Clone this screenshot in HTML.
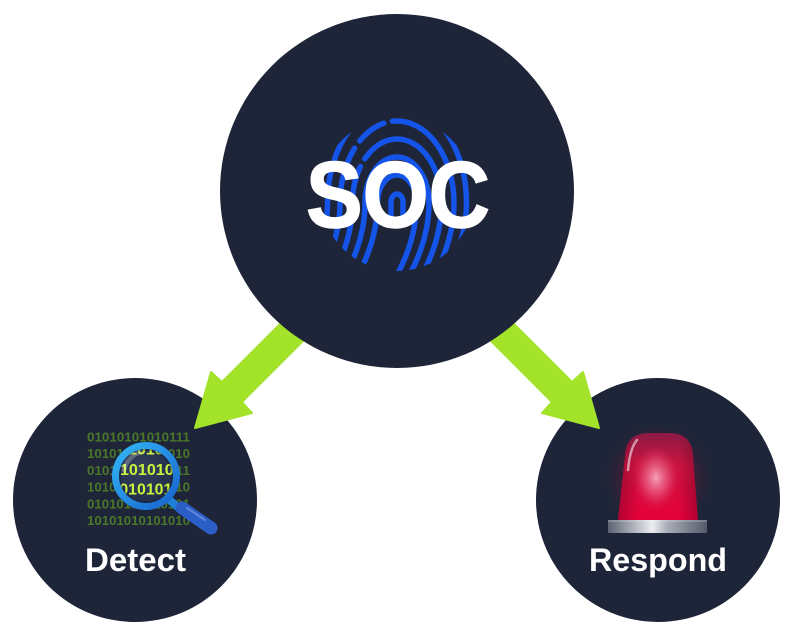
<!DOCTYPE html>
<html>
<head>
<meta charset="utf-8">
<style>
html,body{margin:0;padding:0;background:#fff;}
svg{display:block;}
</style>
</head>
<body>
<svg width="794" height="634" viewBox="0 0 794 634" xmlns="http://www.w3.org/2000/svg">
<defs>
  <clipPath id="fpclip"><circle cx="397" cy="194" r="77"/></clipPath>
  <clipPath id="lensclip"><circle cx="146" cy="476" r="27.5"/></clipPath>
  <linearGradient id="ring" x1="0" y1="0" x2="1" y2="1">
    <stop offset="0" stop-color="#33b6f7"/>
    <stop offset="1" stop-color="#1762cc"/>
  </linearGradient>
  <radialGradient id="lens" cx="0.4" cy="0.4" r="0.7">
    <stop offset="0" stop-color="#33405e"/>
    <stop offset="1" stop-color="#1f2a45"/>
  </radialGradient>
  <radialGradient id="glow" cx="0.5" cy="0.5" r="0.5">
    <stop offset="0" stop-color="#b0103c" stop-opacity="0.45"/>
    <stop offset="0.7" stop-color="#801030" stop-opacity="0.2"/>
    <stop offset="1" stop-color="#1e2539" stop-opacity="0"/>
  </radialGradient>
  <linearGradient id="dome" x1="0" y1="0" x2="0" y2="1">
    <stop offset="0" stop-color="#8c1a46"/>
    <stop offset="0.35" stop-color="#c8143f"/>
    <stop offset="1" stop-color="#e6003a"/>
  </linearGradient>
  <linearGradient id="domeSide" x1="0" y1="0" x2="1" y2="0">
    <stop offset="0" stop-color="#500020" stop-opacity="0.35"/>
    <stop offset="0.25" stop-color="#500020" stop-opacity="0"/>
    <stop offset="0.75" stop-color="#500020" stop-opacity="0"/>
    <stop offset="1" stop-color="#500020" stop-opacity="0.35"/>
  </linearGradient>
  <radialGradient id="domeLight" cx="0.5" cy="0.5" r="0.5">
    <stop offset="0" stop-color="#f8a8c0" stop-opacity="0.95"/>
    <stop offset="0.5" stop-color="#ee6a8e" stop-opacity="0.55"/>
    <stop offset="1" stop-color="#e02050" stop-opacity="0"/>
  </radialGradient>
  <linearGradient id="base" x1="0" y1="0" x2="1" y2="0">
    <stop offset="0" stop-color="#5c6272"/>
    <stop offset="0.45" stop-color="#eceef2"/>
    <stop offset="0.6" stop-color="#a8acb6"/>
    <stop offset="1" stop-color="#545a6a"/>
  </linearGradient>
</defs>

<rect width="794" height="634" fill="#ffffff"/>

<!-- Detect circle -->
<circle cx="135" cy="500" r="122" fill="#1e2539"/>
<!-- Respond circle -->
<circle cx="658" cy="500" r="122" fill="#1e2539"/>

<!-- Binary text -->
<g font-family="Liberation Sans, DejaVu Sans, sans-serif" font-weight="bold" font-size="13" fill="#4a7729">
  <text x="87" y="441.5" textLength="103" lengthAdjust="spacingAndGlyphs">01010101010111</text>
  <text x="87" y="458" textLength="103" lengthAdjust="spacingAndGlyphs">10101010101010</text>
  <text x="87" y="475" textLength="103" lengthAdjust="spacingAndGlyphs">01010101010111</text>
  <text x="87" y="491.5" textLength="103" lengthAdjust="spacingAndGlyphs">10101010101010</text>
  <text x="87" y="508.5" textLength="103" lengthAdjust="spacingAndGlyphs">01010101010101</text>
  <text x="87" y="525" textLength="103" lengthAdjust="spacingAndGlyphs">10101010101010</text>
</g>

<!-- Magnifier -->
<line x1="166" y1="497" x2="180" y2="509" stroke="#1e80d8" stroke-width="8" stroke-linecap="round"/>
<line x1="182" y1="508" x2="211" y2="528" stroke="#2c5ec8" stroke-width="13" stroke-linecap="round"/>
<line x1="187" y1="508" x2="205" y2="520" stroke="#7898e2" stroke-width="2" stroke-linecap="round" opacity="0.7"/>
<circle cx="146" cy="476" r="28" fill="url(#lens)"/>
<g clip-path="url(#lensclip)">
  <g transform="translate(146,476) scale(1.2) translate(-146,-476)" font-family="Liberation Sans, DejaVu Sans, sans-serif" font-weight="bold" font-size="13" fill="#c8f43c">
    <text x="87" y="441.5" textLength="103" lengthAdjust="spacingAndGlyphs">01010101010111</text>
    <text x="87" y="458" textLength="103" lengthAdjust="spacingAndGlyphs">10101010101010</text>
    <text x="87" y="475" textLength="103" lengthAdjust="spacingAndGlyphs">01010101010111</text>
    <text x="87" y="491.5" textLength="103" lengthAdjust="spacingAndGlyphs">10101010101010</text>
    <text x="87" y="508.5" textLength="103" lengthAdjust="spacingAndGlyphs">01010101010101</text>
    <text x="87" y="525" textLength="103" lengthAdjust="spacingAndGlyphs">10101010101010</text>
  </g>
  <path d="M124,470 A24,24 0 0 1 140,452" stroke="#ffffff" stroke-opacity="0.25" stroke-width="5" fill="none" stroke-linecap="round"/>
  <circle cx="146" cy="476" r="27" fill="none" stroke="#0a1430" stroke-opacity="0.35" stroke-width="3"/>
</g>
<circle cx="146" cy="476" r="30.5" fill="none" stroke="url(#ring)" stroke-width="7"/>

<!-- Detect label -->
<text x="85" y="571" font-family="Liberation Sans, DejaVu Sans, sans-serif" font-weight="bold" font-size="32" fill="#ffffff" textLength="101" lengthAdjust="spacingAndGlyphs">Detect</text>

<!-- Siren -->
<circle cx="658" cy="478" r="58" fill="url(#glow)"/>
<path d="M618,520 L625,456 Q626,433 649,433 L669,433 Q692,433 693,456 L698,520 Z" fill="url(#dome)"/>
<path d="M618,520 L625,456 Q626,433 649,433 L669,433 Q692,433 693,456 L698,520 Z" fill="url(#domeSide)"/>
<ellipse cx="656" cy="478" rx="24" ry="33" fill="url(#domeLight)"/>
<path d="M637,440 Q630,448 628,470" stroke="#ffffff" stroke-opacity="0.55" stroke-width="2.5" fill="none" stroke-linecap="round"/>
<rect x="608" y="520" width="99" height="13" fill="url(#base)"/>
<rect x="608" y="520" width="99" height="2" fill="#ffffff" opacity="0.2"/>

<!-- Respond label -->
<text x="589" y="571" font-family="Liberation Sans, DejaVu Sans, sans-serif" font-weight="bold" font-size="32" fill="#ffffff" textLength="138" lengthAdjust="spacingAndGlyphs">Respond</text>

<!-- Arrows -->
<polygon points="292,312 222,382 211,372 195,428 252,413 242,402 312,332" fill="#a3e42b" stroke="#a3e42b" stroke-width="2" stroke-linejoin="round"/>
<polygon points="502,312 572,382 583,372 599,428 542,413 552,402 482,332" fill="#a3e42b" stroke="#a3e42b" stroke-width="2" stroke-linejoin="round"/>

<!-- Main circle -->
<circle cx="397" cy="191" r="177" fill="#1e2539"/>

<!-- Fingerprint -->
<g clip-path="url(#fpclip)" fill="none" stroke="#1554e8" stroke-width="5.5" stroke-linecap="round">
  <path d="M391,217 L391,202 A6,8 0 0 1 403,202 L403,217"/>
  <path d="M349.5,290 Q377.5,245 377.5,203 A19.5,28 0 0 1 416.5,203 Q416.5,245 388.5,290"/>
  <path d="M337,290 Q365,245 365,203 A32,46 0 0 1 429,203 Q429,245 401,290"/>
  <path d="M324.5,290 Q352.5,245 352.5,203 A44.5,64 0 0 1 441.5,203 Q441.5,245 413.5,290" stroke-dasharray="130 9 300"/>
  <path d="M312,290 Q340,245 340,203 A57,82 0 0 1 454,203 Q454,245 426,290" stroke-dasharray="150 9 30 9 300"/>
  <path d="M299.5,290 Q327.5,245 327.5,203 A69.5,100 0 0 1 466.5,203 Q466.5,245 438.5,290" stroke-dasharray="170 10 60 10 300"/>
  <path d="M287,290 Q315,245 315,203 A82,118 0 0 1 479,203 Q479,245 451,290"/>
</g>

<!-- SOC label -->
<text x="306" y="227" font-family="Liberation Sans, DejaVu Sans, sans-serif" font-weight="bold" font-size="94" fill="#ffffff" stroke="#ffffff" stroke-width="1.5" textLength="184" lengthAdjust="spacingAndGlyphs">SOC</text>
</svg>
</body>
</html>
